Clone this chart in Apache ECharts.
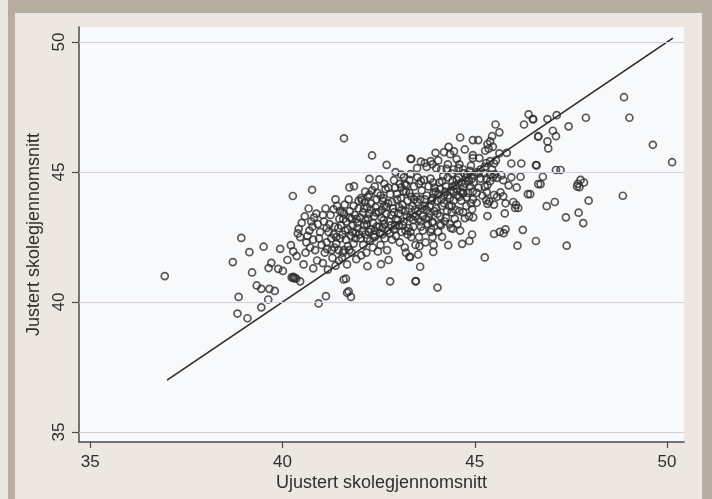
<!DOCTYPE html>
<html>
<head>
<meta charset="utf-8">
<script src="https://cdn.jsdelivr.net/npm/echarts@6/dist/echarts.min.js"></script>
<style>
html,body{margin:0;padding:0;}
body{width:712px;height:499px;background:#b6aea1;position:relative;overflow:hidden;}
#strip{position:absolute;left:0;top:0;width:8px;height:499px;background:#e9e7e3;}
#panel{position:absolute;left:15px;top:13px;width:687px;height:486px;background:#ece8e1;}
#chart{position:absolute;left:0;top:0;width:712px;height:499px;}
</style>
</head>
<body>
<div id="strip"></div>
<div id="panel"></div>
<div id="chart"></div>
<script>
// Tick values shared by both axes
const tickValues = [35, 40, 45, 50];
const xTitle = 'Ujustert skolegjennomsnitt';
const yTitle = 'Justert skolegjennomsnitt';
// 45-degree reference line (x = y)
const refLineX = [37, 50.15];
const refLineY = [37, 50.15];

// Scatter points [unadjusted, adjusted]
const pointsLowLeft = [
[36.94,41.0],[38.93,42.47],[39.14,41.92],[38.71,41.54],[39.51,42.13],[39.94,42.05],[40.22,42.19],[39.21,41.14],
[39.71,41.51],[39.64,41.31],[39.89,41.28],[40.01,41.2],[40.13,41.62],[40.28,41.95],[40.37,41.77],[39.33,40.64],
[39.45,40.51],[39.66,40.51],[39.8,40.43],[38.86,40.2],[39.63,40.1],[38.83,39.56],[39.09,39.38],[39.45,39.8],
[40.28,40.97],[40.24,40.95],[40.32,40.93],[40.42,42.82],[40.4,42.64],[40.46,42.5],[40.27,44.08],
[40.94,39.95],[41.13,40.23],[41.72,40.41],[41.78,40.2],[41.68,40.36],[41.59,40.87],[41.65,40.9],[42.8,40.8],
[43.46,40.8],[42.56,41.46],[42.76,41.62],[43.21,41.9],[43.3,41.74],[42.21,41.38],[40.29,40.92],[40.36,40.9],[40.46,40.8]
];
const pointsUpperLeft = [
[41.6,46.3],[42.33,45.64],[42.71,45.28],[43.33,45.51],[42.94,45.0],[43.09,44.9],[43.16,44.8],[42.26,44.74],
[42.52,44.72],[42.9,44.69],[43.33,44.92],[43.51,44.8],[40.77,44.32],[41.74,44.41],[41.86,44.46],[41.38,43.95],
[41.33,43.57],[43.09,44.41],[43.21,44.26],[42.26,44.13],[41.98,43.9],[42.07,43.92]
];
const pointsRight = [
[48.88,47.88],[49.02,47.09],[49.63,46.05],[50.13,45.38],[48.85,44.09],[47.89,47.09],[47.44,46.76],[47.13,47.19],
[46.89,47.04],[46.51,47.04],[47.03,46.59],[47.11,46.38],[46.65,46.36],[46.89,46.18],[46.91,45.91],[46.59,45.27],
[47.11,45.08],[47.23,45.08],[46.77,44.82],[46.71,44.54],[47.68,44.55],[47.75,44.7],[47.72,44.42],[47.84,44.6],
[47.66,44.45],[47.96,43.9],[46.44,44.15],[46.87,43.69],[47.08,43.85],[47.37,43.26],[47.7,43.44],[47.82,43.04],
[46.59,42.35],[47.39,42.17],[46.11,42.17],[46.25,42.78],[45.78,43.41],[46.07,43.74],[46.13,43.62],[45.8,42.8],
[45.75,42.65],[45.65,42.7],[45.5,42.62],[45.33,43.31],[45.26,41.72],[44.93,42.6],[44.86,42.35],[44.67,42.24],
[44.31,42.19],[44.15,42.51],[44.96,43.26],[44.74,43.23],[45.05,43.82],[45.38,43.87],[44.43,42.82],[44.38,42.85],
[43.92,41.93],[43.93,42.2],[43.9,42.5],[43.87,42.8],[43.53,41.83],[43.32,41.74],[43.58,41.36],[43.47,40.81],[44.03,40.56]
];
const pointsUpperRight = [
[46.4,47.22],[46.52,47.03],[46.28,46.83],[45.54,46.83],[45.64,46.53],[46.65,46.38],[45.45,46.38],[44.62,46.33],
[44.95,46.23],[45.09,46.23],[45.4,46.18],[45.33,46.08],[45.47,45.97],[44.74,45.87],[45.27,45.82],[45.36,45.9],
[45.83,45.74],[45.64,45.72],[44.32,45.97],[44.2,45.77],[44.36,45.69],[44.46,45.8],[43.98,45.74],[44.53,45.5],
[44.95,45.54],[45.12,45.54],[44.95,45.65],[45.4,45.42],[45.55,45.45],[45.5,45.33],[45.3,45.35],[45.95,45.33],
[46.21,45.33],[46.61,45.26],[43.35,45.51],[43.6,45.4],[43.7,45.35],[43.85,45.42],[43.9,45.3],
[44.0,45.15],[44.13,45.1],[44.27,45.12],[44.45,45.1],[44.58,45.15],[44.7,45.1],[44.87,45.05],[45.15,45.1],
[45.26,45.2],[45.45,45.1],[45.52,44.92],[45.47,44.8],[45.58,44.78],[45.69,44.87],[45.74,44.69],[45.95,44.8],
[46.19,44.82],[45.88,44.49],[46.09,44.41],[46.38,44.15],[46.65,44.54],[45.3,44.75],[45.33,44.5],[45.4,44.65],
[44.97,44.6],[45.1,44.4],[45.2,44.1],[45.5,44.12],[45.58,44.05],[45.3,43.92],[45.33,43.78],[45.5,43.75],
[45.8,43.8],[46.0,43.85],[46.05,43.62],[44.7,44.42],[44.85,44.65],[44.78,44.78],[45.67,44.22],[45.74,44.07],
[44.79,44.03],[44.69,44.18],[45.26,44.44],[45.31,44.23],[44.1,43.0],[43.9,43.05],[44.93,43.57]
];
const pointsCoreA = [
[40.55,41.45],[40.6,41.9],[40.62,42.3],[40.7,42.75],[40.75,43.1],[40.58,43.3],[40.85,42.0],[40.9,41.6],
[40.8,41.3],[40.95,42.45],[40.68,43.6],[40.92,43.0],[40.5,43.05],[40.88,43.4],[40.72,42.1],
[41.05,41.5],[41.1,41.9],[41.15,42.3],[41.2,42.7],[41.08,43.1],[41.25,43.35],[41.3,41.7],[41.35,42.1],
[41.4,42.5],[41.45,42.85],[41.12,43.6],[41.28,42.0],[41.38,41.4],[41.02,42.2],[41.48,43.2],[41.18,41.25],
[41.42,43.7],[41.33,42.6],[41.22,43.0],
[41.55,41.7],[41.6,42.0],[41.65,42.4],[41.7,42.8],[41.58,43.2],[41.75,43.5],[41.8,41.9],[41.85,42.25],
[41.9,42.65],[41.95,43.05],[41.62,43.75],[41.78,42.55],[41.88,43.35],[41.52,42.95],[41.68,41.45],[41.92,41.65],
[41.72,43.95],[41.98,43.6],[41.56,42.6],[41.83,42.95],[41.66,43.1]
];
const pointsCoreB = [
[42.05,41.8],[42.1,42.2],[42.15,42.6],[42.2,43.0],[42.25,43.4],[42.3,43.8],[42.02,43.25],[42.35,42.1],
[42.4,42.5],[42.45,42.9],[42.08,42.75],[42.38,43.3],[42.12,43.6],[42.42,43.65],[42.28,42.35],[42.18,41.9],
[42.48,41.95],[42.22,44.05],[42.33,44.3],[42.04,44.0],[42.47,44.2],[42.16,43.15],[42.3,42.8],
[42.55,42.2],[42.6,42.6],[42.65,43.0],[42.7,43.4],[42.75,43.8],[42.8,44.15],[42.58,43.55],[42.85,42.4],
[42.9,42.8],[42.95,43.2],[42.62,44.0],[42.88,43.6],[42.52,42.9],[42.72,42.0],[42.98,43.95],[42.68,44.35],
[42.82,42.95],[42.57,43.25],[42.93,44.4],[42.77,43.1],[42.66,42.45],
[43.05,42.3],[43.1,42.7],[43.15,43.1],[43.2,43.5],[43.25,43.9],[43.3,44.2],[43.02,43.4],[43.35,42.5],
[43.4,42.9],[43.45,43.3],[43.08,44.0],[43.38,43.7],[43.48,44.05],[43.18,42.1],[43.28,42.85],[43.42,44.45],
[43.12,43.75],[43.22,44.5],[43.46,42.2],[43.03,42.95],[43.32,43.25]
];
const pointsCoreC = [
[43.55,42.5],[43.6,42.9],[43.65,43.3],[43.7,43.7],[43.75,44.1],[43.8,44.45],[43.52,43.5],[43.85,42.7],
[43.9,43.1],[43.95,43.5],[43.58,43.95],[43.88,43.9],[43.62,44.3],[43.98,44.25],[43.72,42.3],[43.78,43.0],
[43.68,44.7],[43.92,44.6],[43.82,43.4],[43.56,42.15],
[44.05,42.7],[44.1,43.3],[44.15,43.7],[44.2,44.1],[44.25,44.45],[44.3,44.8],[44.02,43.9],[44.35,43.0],
[44.4,43.45],[44.45,43.9],[44.08,44.6],[44.38,44.3],[44.12,42.95],[44.28,43.5],[44.42,44.65],[44.18,44.85],
[44.48,43.2],[44.22,43.1],
[44.55,43.0],[44.6,43.5],[44.65,43.9],[44.7,44.2],[44.75,44.55],[44.8,44.9],[44.52,44.35],[44.85,43.3],
[44.9,43.8],[44.95,44.25],[44.58,44.8],[44.88,44.45],[44.62,42.75],[44.78,43.7],[44.98,44.9]
];
const pointsCoreD = [
[41.4,42.25],[41.5,42.45],[41.6,43.4],[41.7,42.15],[41.8,43.2],[41.9,42.45],[42.0,42.6],[42.1,43.45],
[42.2,42.45],[42.3,43.55],[42.4,42.75],[42.5,43.45],[42.6,42.85],[42.7,43.65],[42.8,42.65],[42.9,43.45],
[43.0,43.15],[43.1,43.55],[43.2,42.75],[43.3,43.6],[43.4,43.15],[43.5,43.85],[43.6,43.1],[43.7,43.95],
[43.8,43.25],[43.9,44.0],[44.0,43.6],[44.1,44.35],[44.2,43.8],[44.3,44.1],[44.4,43.7],[44.5,44.5],
[42.35,43.05],[42.45,43.95],[42.55,44.1],[42.85,43.85],[43.15,44.25],[43.55,44.55],[43.65,42.75],[43.25,42.6],
[42.95,42.55],[42.65,43.7],[42.25,42.7],[41.95,42.85],[41.75,43.25],[42.15,43.85],[43.45,43.55],[43.75,43.55],
[44.05,44.15],[44.35,44.0],[44.55,44.1],[44.65,44.6],[44.45,44.25],[43.95,44.4],[43.35,44.05],[42.75,44.4]
];
const pointsCoreE = [
[40.65,42.55],[40.78,42.9],[40.82,43.25],[40.98,42.7],[41.05,43.35],[41.16,42.05],[41.27,42.45],[41.36,42.9],
[41.46,42.0],[41.55,43.45],[41.63,42.75],[41.74,42.0],[41.82,42.7],[41.93,43.2],[41.47,41.6],[41.57,41.9],
[42.03,42.45],[42.13,42.95],[42.23,43.2],[42.37,42.6],[42.43,43.45],[42.53,42.65],[42.63,43.15],[42.73,42.75],
[42.83,43.35],[42.93,42.95],[43.03,43.65],[43.13,42.95],[43.23,43.3],[43.33,42.7],[43.43,43.95],[43.53,43.2],
[43.63,43.6],[43.73,43.2],[43.83,43.7],[43.93,44.2],[44.03,43.4],[44.13,43.95],[44.23,44.25],[44.33,43.7],
[44.43,44.45],[44.53,44.7],[44.63,44.25],[44.73,44.95],[44.83,44.2],[44.93,44.75],[44.6,44.05],[44.4,44.95],
[44.15,44.65],[43.85,44.75],[43.6,44.65],[43.3,44.7],[43.05,44.55],[42.65,44.55],[42.4,44.45],[42.15,44.25],
[44.25,43.25],[44.5,43.55],[44.7,43.45],[44.95,43.95],[45.05,44.2],[45.15,44.75],[45.25,44.95],[45.1,44.95],
[45.4,44.9],[45.05,45.0],[44.9,45.25],[44.6,45.3],[44.3,45.3],[44.05,45.45],[43.75,45.2],[43.5,45.15],
[43.18,44.55],[42.98,44.15],[42.6,43.9],[42.2,43.65],[41.85,43.7],[41.5,43.5],[41.15,42.85],[40.8,42.4]
];

const allPoints = [].concat(pointsLowLeft, pointsUpperLeft, pointsRight, pointsUpperRight,
  pointsCoreA, pointsCoreB, pointsCoreC, pointsCoreD, pointsCoreE);
const refLine = refLineX.map((x, i) => [x, refLineY[i]]);

const chart = echarts.init(document.getElementById('chart'), null, {renderer: 'canvas'});
const textFont = '"Liberation Sans", Arial, sans-serif';
chart.setOption({
  animation: false,
  backgroundColor: 'transparent',
  grid: {
    left: 79, top: 27, width: 605, height: 415,
    show: true, backgroundColor: '#f8f9fa', borderWidth: 0
  },
  xAxis: {
    type: 'value', min: 34.71, max: 50.44,
    name: xTitle, nameLocation: 'middle', nameGap: 32, nameMoveOverlap: false,
    nameTextStyle: {fontFamily: textFont, fontSize: 18, color: '#2e2e2e'},
    axisLine: {show: true, onZero: false, lineStyle: {color: '#4a4a4a', width: 1.5}},
    axisTick: {show: true, length: 6, customValues: tickValues, lineStyle: {color: '#4a4a4a', width: 1.2}},
    axisLabel: {customValues: tickValues, margin: 12, fontFamily: textFont, fontSize: 17, color: '#2e2e2e'},
    splitLine: {show: false}
  },
  yAxis: {
    type: 'value', min: 34.62, max: 50.58,
    name: yTitle, nameLocation: 'middle', nameGap: 36, nameRotate: 90, nameMoveOverlap: false,
    nameTextStyle: {fontFamily: textFont, fontSize: 18, color: '#2e2e2e'},
    axisLine: {show: true, onZero: false, lineStyle: {color: '#4a4a4a', width: 1.5}},
    axisTick: {show: true, length: 7, customValues: tickValues, lineStyle: {color: '#4a4a4a', width: 1.2}},
    axisLabel: {customValues: tickValues, rotate: 90, margin: 11, fontFamily: textFont, fontSize: 17, color: '#2e2e2e'},
    splitLine: {show: false}
  },
  series: [
    {
      type: 'scatter',
      data: allPoints,
      symbol: 'circle',
      symbolSize: 7,
      itemStyle: {color: 'rgba(255,255,255,0)', borderColor: '#2e2e2e', borderWidth: 1.7},
      z: 3,
      markLine: {
        silent: true, symbol: 'none', label: {show: false}, animation: false,
        lineStyle: {color: '#d6cfda', width: 1.2, type: 'solid'},
        data: tickValues.map(v => ({yAxis: v}))
      }
    },
    {
      type: 'line',
      data: refLine,
      symbol: 'none',
      lineStyle: {color: '#2a2a2a', width: 1.6},
      z: 4
    }
  ]
});
</script>
</body>
</html>
